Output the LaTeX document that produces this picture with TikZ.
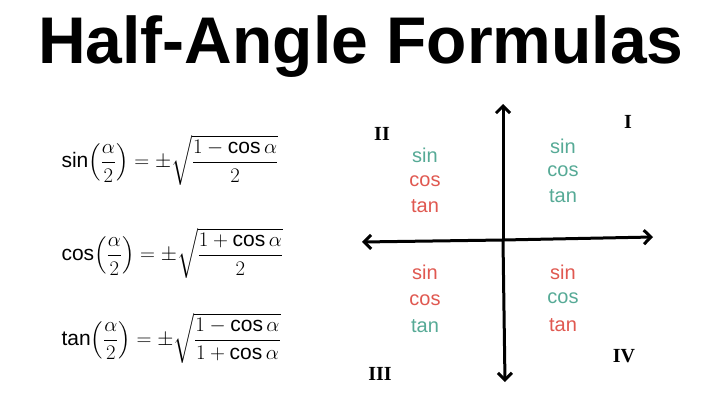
\documentclass[tikz,border=0pt]{standalone}
\usepackage{fontspec}
\setmainfont{Liberation Sans}
\newfontfamily\serifq{Liberation Serif}
\usepackage{amsmath}
\usetikzlibrary{arrows.meta}
\definecolor{tl}{RGB}{86,170,150}
\definecolor{rd}{RGB}{224,88,80}
\begin{document}
\begin{tikzpicture}[x=1pt,y=-1pt,
  ax/.style={line width=3pt,-{Straight Barb[length=7pt,width=14pt]}},
  w/.style={font=\fontsize{20}{20}\selectfont},
  q/.style={font=\fontsize{20}{20}\selectfont\serifq\bfseries},
  fm/.style={font=\fontsize{21}{21}\selectfont}]
\useasboundingbox[fill=white] (0,0) rectangle (720,404);
\node[font=\fontsize{66}{66}\selectfont\bfseries] (title) at (361,47) {Half-Angle Formulas};
\node[fm,anchor=west] (f1) at (58,160) {$\sin\!\left(\dfrac{\alpha}{2}\right)=\pm\sqrt{\dfrac{1-\cos\alpha}{2}}$};
\node[fm,anchor=west] (f2) at (58,253) {$\cos\!\left(\dfrac{\alpha}{2}\right)=\pm\sqrt{\dfrac{1+\cos\alpha}{2}}$};
\node[fm,anchor=west] (f3) at (58,338) {$\tan\!\left(\dfrac{\alpha}{2}\right)=\pm\sqrt{\dfrac{1-\cos\alpha}{1+\cos\alpha}}$};
\coordinate (o) at (503,240);
\coordinate (top) at (503,104);
\coordinate (bot) at (505,382);
\coordinate (lft) at (362,242);
\coordinate (rgt) at (653,237);
\draw[ax] (o) -- (top);
\draw[ax] (o) -- (bot);
\draw[ax] (o) -- (lft);
\draw[ax] (o) -- (rgt);
\node[q] (q1) at (628,122) {I};
\node[q] (q2) at (382,134) {II};
\node[q] (q3) at (380,374) {III};
\node[q] (q4) at (624,356) {IV};
\node[w,text=tl] (a1) at (425,155) {sin};
\node[w,text=rd] (a2) at (425,181) {cos};
\node[w,text=rd] (a3) at (425,206) {tan};
\node[w,text=tl] (b1) at (563,146) {sin};
\node[w,text=tl] (b2) at (563,171) {cos};
\node[w,text=tl] (b3) at (563,196) {tan};
\node[w,text=rd] (c1) at (425,272) {sin};
\node[w,text=rd] (c2) at (425,300) {cos};
\node[w,text=tl] (c3) at (425,326) {tan};
\node[w,text=rd] (d1) at (563,272) {sin};
\node[w,text=tl] (d2) at (563,298) {cos};
\node[w,text=rd] (d3) at (563,325) {tan};
\end{tikzpicture}
\end{document}
